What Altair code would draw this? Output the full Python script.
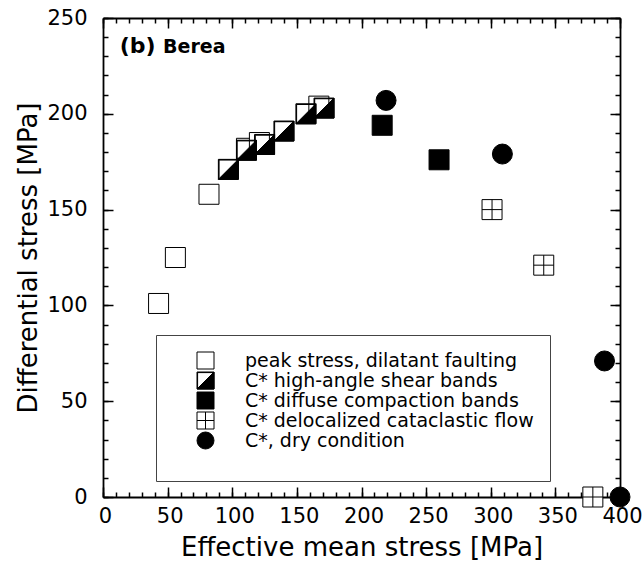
import altair as alt
import pandas as pd

# ---- data ----
series = [
    "peak stress, dilatant faulting",
    "C* high-angle shear bands",
    "C* diffuse compaction bands",
    "C* delocalized cataclastic flow",
    "C*, dry condition",
]
peak_x = [43, 56, 82, 111, 121, 167]
peak_y = [101, 125, 158, 182, 185, 204]
shear_x = [97, 111, 125, 140, 157, 171]
shear_y = [171, 181, 184, 191, 200, 203]
diffuse_x = [216, 260]
diffuse_y = [194, 176]
cata_x = [301, 341, 379]
cata_y = [150, 121, 0]
dry_x = [219, 309, 388, 400]
dry_y = [207, 179, 71, 0]

x_major = [0, 50, 100, 150, 200, 250, 300, 350, 400]
x_minor = list(range(0, 401, 10))
y_major = [0, 50, 100, 150, 200, 250]
y_minor = list(range(0, 251, 10))

panel_label = "(b)"
panel_name = "Berea"

# ---- build table ----
rows = []
for name, xs_, ys_ in zip(series,
                          [peak_x, shear_x, diffuse_x, cata_x, dry_x],
                          [peak_y, shear_y, diffuse_y, cata_y, dry_y]):
    for xv, yv in zip(xs_, ys_):
        rows.append({"mean": xv, "diff": yv, "kind": name})
df = pd.DataFrame(rows)

HALF = "M-1,-1H1V1H-1Z M-0.93,-0.93V0.93H0.93V-0.93Z M1,-1L1,1L-1,1Z"
CROSS = "M-1,-1H1V1H-1Z M0,-1V1 M-1,0H1"

FONT = "DejaVu Sans"
xs = alt.Scale(domain=[0, 400], nice=False, zero=False)
ys = alt.Scale(domain=[0, 250], nice=False, zero=False)

legend = alt.Legend(
    orient="none", legendX=53, legendY=317, title=" ", titleOrient="bottom",
    titleFontSize=10, titlePadding=4,
    strokeColor="#444444", fillColor="white", padding=16,
    symbolSize=289, symbolStrokeColor="black", symbolStrokeWidth=1,
    labelFont=FONT, labelFontSize=19, labelColor="black", labelLimit=400,
    labelOffset=30, symbolOffset=24, rowPadding=-1,
)

shape_scale = alt.Scale(domain=series, range=["square", HALF, "square", CROSS, "circle"])
fill_scale = alt.Scale(domain=series, range=["white", "black", "black", "white", "black"])
stroke_scale = alt.Scale(domain=series, range=["black"] * 5)

points = alt.Chart(df).mark_point(
    filled=True, opacity=1, size=400, strokeWidth=1
).encode(
    x=alt.X("mean:Q", scale=xs, axis=alt.Axis(
        orient="bottom", values=x_major, title="Effective mean stress [MPa]",
        tickSize={"expr": "-10"}, labelPadding=18, titlePadding=8, labelOffset=2,
        labelFlush=False, labelOverlap=False)),
    y=alt.Y("diff:Q", scale=ys, axis=alt.Axis(
        orient="left", values=y_major, title="Differential stress [MPa]",
        tickSize={"expr": "-10"}, labelPadding=26, titlePadding=5,
        labelFlush=False, labelOverlap=False)),
    shape=alt.Shape("kind:N", scale=shape_scale, legend=legend),
    fill=alt.Fill("kind:N", scale=fill_scale, legend=legend),
    stroke=alt.Stroke("kind:N", scale=stroke_scale, legend=legend),
)

tick_df = pd.DataFrame({"mean": [0], "diff": [0]})

def tick_layer(xorient, yorient, xvals, yvals, size):
    return alt.Chart(tick_df).mark_point(opacity=0).encode(
        x=alt.X("mean:Q", scale=xs, axis=alt.Axis(
            orient=xorient, values=xvals, title=None, labels=False,
            tickSize={"expr": str(-size)}, domain=(size > 6))),
        y=alt.Y("diff:Q", scale=ys, axis=alt.Axis(
            orient=yorient, values=yvals, title=None, labels=False,
            tickSize={"expr": str(-size)}, domain=(size > 6))),
    )

minor_bl = tick_layer("bottom", "left", x_minor, y_minor, 5)
major_tr = tick_layer("top", "right", x_major, y_major, 10)
minor_tr = tick_layer("top", "right", x_minor, y_minor, 5)

lab_df = pd.DataFrame({"mean": [13], "diff": [231.5], "t": [panel_label]})
name_df = pd.DataFrame({"mean": [46.5], "diff": [231.5], "t": [panel_name]})
lab = alt.Chart(lab_df).mark_text(
    align="left", baseline="alphabetic", font=FONT, fontSize=22, fontWeight="bold"
).encode(x=alt.X("mean:Q", scale=xs, axis=None), y=alt.Y("diff:Q", scale=ys, axis=None), text="t:N")
name = alt.Chart(name_df).mark_text(
    align="left", baseline="alphabetic", font=FONT, fontSize=19, fontWeight="bold"
).encode(x=alt.X("mean:Q", scale=xs, axis=None), y=alt.Y("diff:Q", scale=ys, axis=None), text="t:N")

chart = alt.layer(minor_bl, major_tr, minor_tr, points, lab, name).resolve_axis(
    x="independent", y="independent"
).properties(
    width=517, height=479,
    padding={"left": 103, "top": 18, "right": 23, "bottom": 68},
    autosize=alt.AutoSizeParams(type="none"),
).configure_view(stroke=None).configure_axis(
    grid=False, domainColor="black", domainWidth=1.8, tickColor="black", tickWidth=1.5,
    labelFont=FONT, labelFontSize=21, labelColor="black",
    titleFont=FONT, titleFontSize=26, titleFontWeight="normal", titleColor="black",
).configure_legend(symbolStrokeColor="black")

chart.save("out.html", embed_options={"renderer": "svg", "actions": False})
